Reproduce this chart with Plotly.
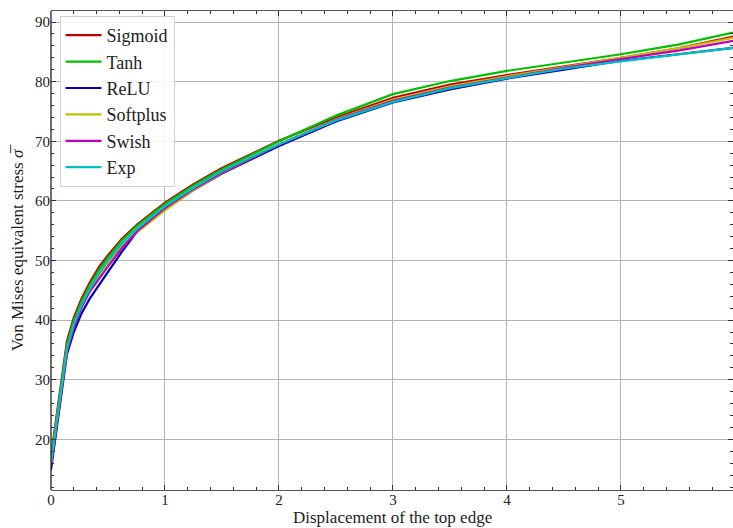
import plotly.graph_objects as go

# Displacement of the top edge (shared sample positions)
displacement = [0, 0.14, 0.2, 0.27, 0.34, 0.42, 0.5, 0.62, 0.76, 1.0, 1.25, 1.5,
                2.0, 2.5, 3.0, 3.5, 4.0, 4.5, 5.0, 5.5, 6.0]

# Von Mises equivalent stress for each activation function
sigmoid = [17.2, 36.5, 40.4, 43.7, 46.3, 48.9, 50.9, 53.6, 56.1, 59.7, 62.8, 65.5,
           70.1, 74.0, 77.3, 79.5, 81.1, 82.5, 84.0, 85.6, 87.6]
tanh = [16.8, 35.9, 39.9, 43.2, 45.9, 48.4, 50.5, 53.3, 55.9, 59.5, 62.6, 65.3,
        70.0, 74.3, 77.9, 80.1, 81.8, 83.2, 84.6, 86.2, 88.3]
relu = [14.9, 34.3, 38.0, 41.2, 43.6, 45.9, 48.1, 51.4, 55.0, 58.6, 61.8, 64.6,
        69.2, 73.3, 76.5, 78.7, 80.5, 82.0, 83.5, 84.6, 85.7]
softplus = [16.0, 35.0, 39.0, 42.3, 45.0, 47.5, 49.6, 52.4, 54.8, 58.4, 61.8, 64.7,
            69.5, 73.7, 77.0, 79.2, 80.9, 82.4, 84.0, 85.6, 87.4]
swish = [15.8, 34.8, 38.8, 42.2, 44.8, 47.0, 49.0, 52.0, 55.0, 58.8, 62.0, 64.8,
         69.4, 73.6, 76.8, 79.0, 80.7, 82.3, 83.8, 85.2, 86.9]
exp_act = [16.0, 35.2, 39.3, 42.6, 45.2, 47.8, 50.0, 52.8, 55.4, 59.1, 62.2, 65.0,
           69.5, 73.5, 76.6, 78.9, 80.6, 82.2, 83.4, 84.5, 85.7]

names = ["Sigmoid", "Tanh", "ReLU", "Softplus", "Swish", "Exp"]
series = [sigmoid, tanh, relu, softplus, swish, exp_act]
colors = ["#c00000", "#00c000", "#0000c0", "#c0c000", "#c000c0", "#00c0c0"]

FONT = "Liberation Serif"
PLOT_TOP, PLOT_BOTTOM = 11, 490          # plot area in pixels
PLOT_H = PLOT_BOTTOM - PLOT_TOP

fig = go.Figure()
for name, vals, col in zip(names, series, colors):
    fig.add_trace(go.Scatter(x=displacement, y=vals, mode="lines", name=name,
                             line=dict(color=col, width=2.2)))

axis_common = dict(
    showgrid=True, gridcolor="#b4b4b4", gridwidth=1,
    zeroline=False,
    ticks="inside", ticklen=5, tickwidth=1, tickcolor="#333333",
    tickfont=dict(family=FONT, size=15, color="#222222"),
    mirror="ticks",
)

fig.update_xaxes(
    **axis_common,
    ticklabelstandoff=-4,
    range=[0, 5.983], dtick=1, tick0=0,
    showline=True, linecolor="#555555", linewidth=1.3,
    minor=dict(ticks="inside", dtick=0.2, ticklen=3, tickwidth=1,
               tickcolor="#333333", showgrid=False),
)
fig.update_yaxes(
    **axis_common,
    range=[11.5, 91.85], dtick=10, tick0=0,
    showline=False,
    minor=dict(ticks="inside", dtick=2, ticklen=3, tickwidth=1,
               tickcolor="#333333", showgrid=False),
    title=dict(text="Von Mises equivalent stress <i>σ\u0305</i>",
               font=dict(family=FONT, size=17, color="#222222"), standoff=7),
)

# left spine
fig.add_shape(type="line", xref="paper", yref="paper", x0=0, x1=0, y0=0, y1=1,
              line=dict(color="#222222", width=1.3))

# x-axis title, set just under the tick labels
fig.add_annotation(
    text="Displacement of the top edge", showarrow=False,
    xref="paper", yref="paper", x=0.5, y=-(528 - PLOT_BOTTOM) / PLOT_H,
    xanchor="center", yanchor="bottom", borderpad=0,
    font=dict(family=FONT, size=17, color="#222222"),
)

fig.update_layout(
    width=733, height=528,
    margin=dict(l=51, r=0, t=PLOT_TOP, b=528 - PLOT_BOTTOM, autoexpand=False),
    paper_bgcolor="white", plot_bgcolor="white",
    font=dict(family=FONT, color="#222222"),
    showlegend=True,
    legend=dict(
        x=0.0125, y=0.9896, xanchor="left", yanchor="top",
        bgcolor="rgba(255,255,255,0.85)", bordercolor="#d0d0d0", borderwidth=1,
        font=dict(family=FONT, size=18, color="#222222"),
        itemwidth=36,
    ),
)

fig.write_html("out.html")
